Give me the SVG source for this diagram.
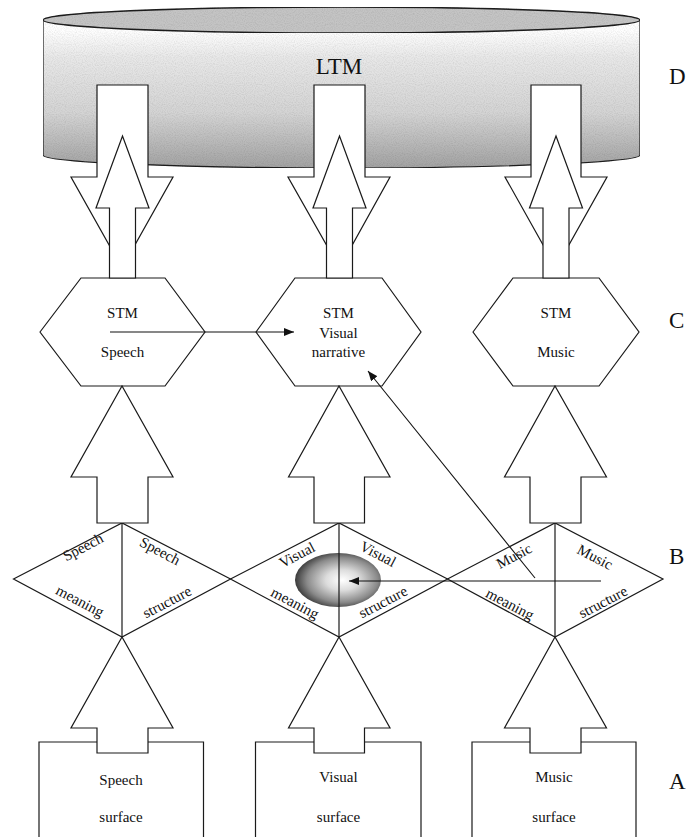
<svg xmlns="http://www.w3.org/2000/svg" width="689" height="837" viewBox="0 0 689 837">
  <defs>
    <linearGradient id="ltmBody" gradientUnits="userSpaceOnUse" x1="0" y1="30" x2="0" y2="168">
      <stop offset="0" stop-color="#ffffff"/>
      <stop offset="0.2" stop-color="#e8e8e8"/>
      <stop offset="0.6" stop-color="#d4d4d4"/>
      <stop offset="1" stop-color="#a2a2a2"/>
    </linearGradient>
    <radialGradient id="ballShade" cx="0.55" cy="0.5" r="0.55">
      <stop offset="0" stop-color="#ffffff"/>
      <stop offset="0.35" stop-color="#dcdcdc"/>
      <stop offset="0.75" stop-color="#8a8a8a"/>
      <stop offset="1" stop-color="#3a3a3a"/>
    </radialGradient>
    <!-- fine stipple texture for the shaded store -->
    <filter id="grain" x="0" y="0" width="1" height="1">
      <feTurbulence type="fractalNoise" baseFrequency="0.9" numOctaves="1" seed="7" result="noise"/>
      <feColorMatrix in="noise" type="matrix" values="0 0 0 0 0  0 0 0 0 0  0 0 0 0 0  1.4 0 0 0 -0.55" result="dots"/>
      <feComposite in="dots" in2="SourceAlpha" operator="in" result="clipped"/>
      <feComponentTransfer in="clipped" result="soft">
        <feFuncA type="linear" slope="0.3"/>
      </feComponentTransfer>
      <feMerge>
        <feMergeNode in="SourceGraphic"/>
        <feMergeNode in="soft"/>
      </feMerge>
    </filter>
    <marker id="head" viewBox="0 0 10 8" refX="10" refY="4" markerWidth="10" markerHeight="8" markerUnits="userSpaceOnUse" orient="auto">
      <path d="M0,0 L10,4 L0,8 Z" fill="#111"/>
    </marker>
    <style>
      .ln { fill: none; stroke: #1a1a1a; stroke-width: 1.2; }
      .blk { fill: #ffffff; stroke: #1a1a1a; stroke-width: 1.2; }
      .thin { fill: none; stroke: #111; stroke-width: 1.1; }
      .t { font-size: 15px; text-anchor: middle; fill: #111; }
      .lvl { font-size: 23px; fill: #111; }
    </style>
  </defs>

  <g font-family="'Liberation Serif', 'DejaVu Serif', serif">
  <!-- Long-term memory store (cylinder) -->
  <g id="ltm">
    <path d="M43,20 L43,155 A298.5,13 0 0 0 640,155 L640,20 Z" fill="url(#ltmBody)" stroke="#1a1a1a" stroke-width="1.2" filter="url(#grain)"/>
    <ellipse cx="341.5" cy="20" rx="298.5" ry="13" fill="#c4c4c4" stroke="#1a1a1a" stroke-width="1.4" filter="url(#grain)"/>
    <text x="339" y="74" font-size="23" text-anchor="middle" fill="#111">LTM</text>
  </g>

  <!-- Level labels -->
  <g id="levels">
    <text class="lvl" x="669" y="84">D</text>
    <text class="lvl" x="669" y="328">C</text>
    <text class="lvl" x="669" y="564">B</text>
    <text class="lvl" x="669" y="789">A</text>
  </g>

  <!-- Short-term memory buffers -->
  <g id="stm-speech">
    <polygon class="blk" points="40,332 81,278 165,278 205,332 165,386 81,386"/>
    <text class="t" x="122.5" y="318">STM</text>
    <text class="t" x="122.5" y="357">Speech</text>
  </g>
  <g id="stm-visual">
    <polygon class="blk" points="256,332 295,278 382,278 421,332 382,386 295,386"/>
    <text class="t" x="338.5" y="318">STM</text>
    <text class="t" x="338.5" y="338">Visual</text>
    <text class="t" x="338.5" y="357">narrative</text>
  </g>
  <g id="stm-music">
    <polygon class="blk" points="473,332 513,278 599,278 639,332 599,386 513,386"/>
    <text class="t" x="556" y="318">STM</text>
    <text class="t" x="556" y="357">Music</text>
  </g>

  <!-- Meaning / structure diamonds -->
  <g id="b-visual-highlight">
    <ellipse cx="338" cy="580" rx="43" ry="27" fill="url(#ballShade)"/>
  </g>
  <g id="b-speech">
    <polygon class="ln" points="13.5,579 122,523 230.5,579 122,637"/>
    <line class="ln" x1="122" y1="523" x2="122" y2="637"/>
    <text class="t" transform="translate(83,547) rotate(-27.7)" y="5">Speech</text>
    <text class="t" transform="translate(160,551) rotate(27.7)" y="5">Speech</text>
    <text class="t" transform="translate(80,601) rotate(27.7)" y="5">meaning</text>
    <text class="t" transform="translate(167,602) rotate(-27.7)" y="5">structure</text>
  </g>
  <g id="b-visual">
    <polygon class="ln" points="230.5,579 339,523 447.5,579 339,637"/>
    <line class="ln" x1="339" y1="523" x2="339" y2="637"/>
    <text class="t" transform="translate(297,555) rotate(-27.7)" y="5">Visual</text>
    <text class="t" transform="translate(378,554) rotate(27.7)" y="5">Visual</text>
    <text class="t" transform="translate(295,603) rotate(27.7)" y="5">meaning</text>
    <text class="t" transform="translate(383,602) rotate(-27.7)" y="5">structure</text>
  </g>
  <g id="b-music">
    <polygon class="ln" points="447.5,579 555,523 663,579 555,637"/>
    <line class="ln" x1="555" y1="523" x2="555" y2="637"/>
    <text class="t" transform="translate(514,556) rotate(-27.7)" y="5">Music</text>
    <text class="t" transform="translate(595,557) rotate(27.7)" y="5">Music</text>
    <text class="t" transform="translate(510,604) rotate(27.7)" y="5">meaning</text>
    <text class="t" transform="translate(603,602) rotate(-27.7)" y="5">structure</text>
  </g>

  <!-- Surface inputs -->
  <g id="a-speech">
    <path class="ln" d="M39,840 V742 H203.5 V840"/>
    <text class="t" x="121" y="785">Speech</text>
    <text class="t" x="121" y="822">surface</text>
  </g>
  <g id="a-visual">
    <path class="ln" d="M255.5,840 V742 H421 V840"/>
    <text class="t" x="338.5" y="782">Visual</text>
    <text class="t" x="338.5" y="822">surface</text>
  </g>
  <g id="a-music">
    <path class="ln" d="M472,840 V742 H636 V840"/>
    <text class="t" x="554" y="782">Music</text>
    <text class="t" x="554" y="822">surface</text>
  </g>
  </g>

  <!-- Connectors -->
  <g id="connectors">
    <!-- LTM to STM (down) and STM to LTM (up) -->
    <polygon class="blk" points="97,85 148,85 148,177 173,177 122,268 71,177 97,177"/>
    <polygon class="blk" points="109.5,278 109.5,208 96,208 122.5,136 149,208 135.5,208 135.5,278"/>
    <polygon class="blk" points="314,85 365,85 365,177 390,177 339.5,268 288,177 314,177"/>
    <polygon class="blk" points="326.5,278 326.5,208 313,208 339.5,136 366,208 352.5,208 352.5,278"/>
    <polygon class="blk" points="531,85 581,85 581,177 607,177 556,268 505,177 531,177"/>
    <polygon class="blk" points="543,278 543,208 529.5,208 556,136 582.5,208 569,208 569,278"/>

    <!-- Diamonds up to STM -->
    <polygon class="blk" points="97,523 97,477 71,477 122,386 173,477 148,477 148,523"/>
    <polygon class="blk" points="314,523 314,477 288.5,477 339,386 390,477 364.5,477 364.5,523"/>
    <polygon class="blk" points="530,523 530,477 504.5,477 555,386 606.5,477 581,477 581,523"/>

    <!-- Surfaces up to diamonds -->
    <polygon class="blk" points="97,753 97,728 71,728 122,637 173,728 148,728 148,753"/>
    <polygon class="blk" points="314,753 314,728 288.5,728 339,637 390,728 364.5,728 364.5,753"/>
    <polygon class="blk" points="530,753 530,728 504.5,728 555,637 606.5,728 581,728 581,753"/>

    <!-- Cross-domain links -->
    <line class="thin" x1="110" y1="332" x2="294" y2="332" marker-end="url(#head)"/>
    <line class="thin" x1="535" y1="578" x2="368" y2="371" marker-end="url(#head)"/>
    <line class="thin" x1="601" y1="581" x2="349" y2="581" marker-end="url(#head)"/>
  </g>
</svg>
